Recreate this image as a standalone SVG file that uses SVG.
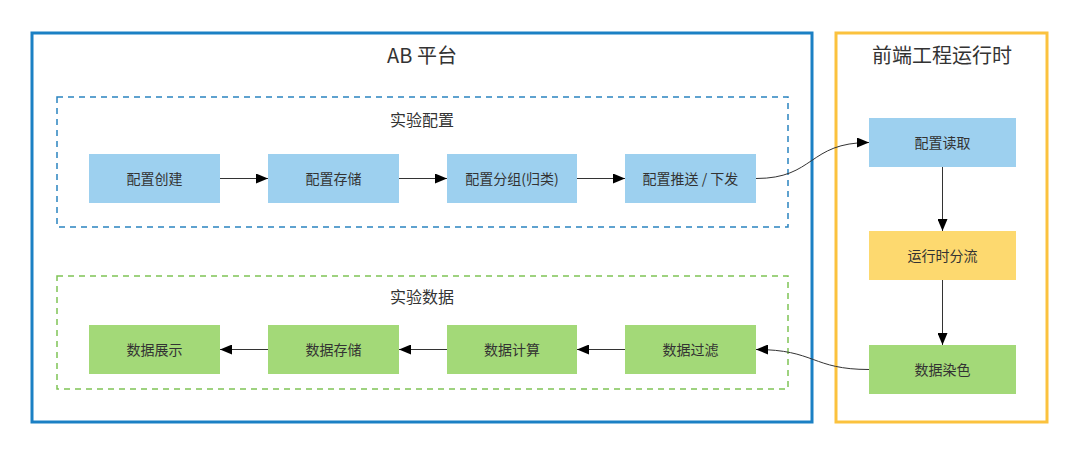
<svg xmlns="http://www.w3.org/2000/svg" width="1080" height="454" viewBox="0 0 1080 454">
<style>
  text { font-family: "Noto Sans CJK SC", "Noto Sans", sans-serif; fill: #333; text-anchor: middle; }
  .title { font-size: 20px; }
  .sub { font-size: 16px; }
  .lbl { font-size: 14px; }
  .blue { fill: #9dd0ef; }
  .green { fill: #a3d978; }
  .yellow { fill: #fdd96f; }
  .conn { fill: none; stroke: #333; stroke-width: 1; }
</style>
<defs>
  <marker id="arr" markerUnits="userSpaceOnUse" markerWidth="14" markerHeight="10" refX="12" refY="5" orient="auto">
    <path d="M0,0 L12,5 L0,10 Z" fill="#000"/>
  </marker>
</defs>
<rect width="1080" height="454" fill="#fff"/>
<g id="ab-platform">
  <rect x="32" y="33" width="780" height="389" fill="none" stroke="#1b80c4" stroke-width="3"/>
  <text class="title" x="422" y="63">AB 平台</text>
</g>
<g id="frontend-runtime">
  <rect x="836" y="33" width="211" height="389" fill="none" stroke="#fbc23e" stroke-width="3"/>
  <text class="title" x="942" y="63">前端工程运行时</text>
</g>
<g id="exp-config">
  <rect x="57" y="97" width="731" height="130" fill="none" stroke="#2a84c0" stroke-width="1.5" stroke-dasharray="6,5"/>
  <text class="sub" x="422" y="126">实验配置</text>
</g>
<g id="exp-data">
  <rect x="57" y="276" width="731" height="113" fill="none" stroke="#7fc356" stroke-width="1.5" stroke-dasharray="6,5"/>
  <text class="sub" x="422" y="303">实验数据</text>
</g>
<g id="n1"><rect class="blue" x="89" y="154" width="131" height="49"/><text class="lbl" x="154.5" y="183.5">配置创建</text></g>
<g id="n2"><rect class="blue" x="268" y="154" width="131" height="49"/><text class="lbl" x="333.5" y="183.5">配置存储</text></g>
<g id="n3"><rect class="blue" x="447" y="154" width="130" height="49"/><text class="lbl" x="512" y="183.5">配置分组(归类)</text></g>
<g id="n4"><rect class="blue" x="625" y="154" width="131" height="49"/><text class="lbl" x="690.5" y="183.5">配置推送 / 下发</text></g>
<g id="n5"><rect class="blue" x="869" y="118" width="147" height="49"/><text class="lbl" x="942.5" y="147.5">配置读取</text></g>
<g id="n6"><rect class="yellow" x="869" y="231" width="147" height="49"/><text class="lbl" x="942.5" y="260.5">运行时分流</text></g>
<g id="n7"><rect class="green" x="869" y="345" width="147" height="49"/><text class="lbl" x="942.5" y="374.5">数据染色</text></g>
<g id="n8"><rect class="green" x="625" y="325" width="131" height="49"/><text class="lbl" x="690.5" y="354.5">数据过滤</text></g>
<g id="n9"><rect class="green" x="447" y="325" width="130" height="49"/><text class="lbl" x="512" y="354.5">数据计算</text></g>
<g id="n10"><rect class="green" x="268" y="325" width="131" height="49"/><text class="lbl" x="333.5" y="354.5">数据存储</text></g>
<g id="n11"><rect class="green" x="89" y="325" width="131" height="49"/><text class="lbl" x="154.5" y="354.5">数据展示</text></g>
<g id="connectors">
  <path class="conn" d="M220,178.5 L268,178.5" marker-end="url(#arr)"/>
  <path class="conn" d="M399,178.5 L447,178.5" marker-end="url(#arr)"/>
  <path class="conn" d="M577,178.5 L625,178.5" marker-end="url(#arr)"/>
  <path class="conn" d="M756,178.5 C815,178.5 808,142.5 869,142.5" marker-end="url(#arr)"/>
  <path class="conn" d="M942.5,167 L942.5,231" marker-end="url(#arr)"/>
  <path class="conn" d="M942.5,280 L942.5,345" marker-end="url(#arr)"/>
  <path class="conn" d="M869,369.5 C812,369.5 815,349.5 756,349.5" marker-end="url(#arr)"/>
  <path class="conn" d="M625,349.5 L577,349.5" marker-end="url(#arr)"/>
  <path class="conn" d="M447,349.5 L399,349.5" marker-end="url(#arr)"/>
  <path class="conn" d="M268,349.5 L220,349.5" marker-end="url(#arr)"/>
</g>
</svg>
